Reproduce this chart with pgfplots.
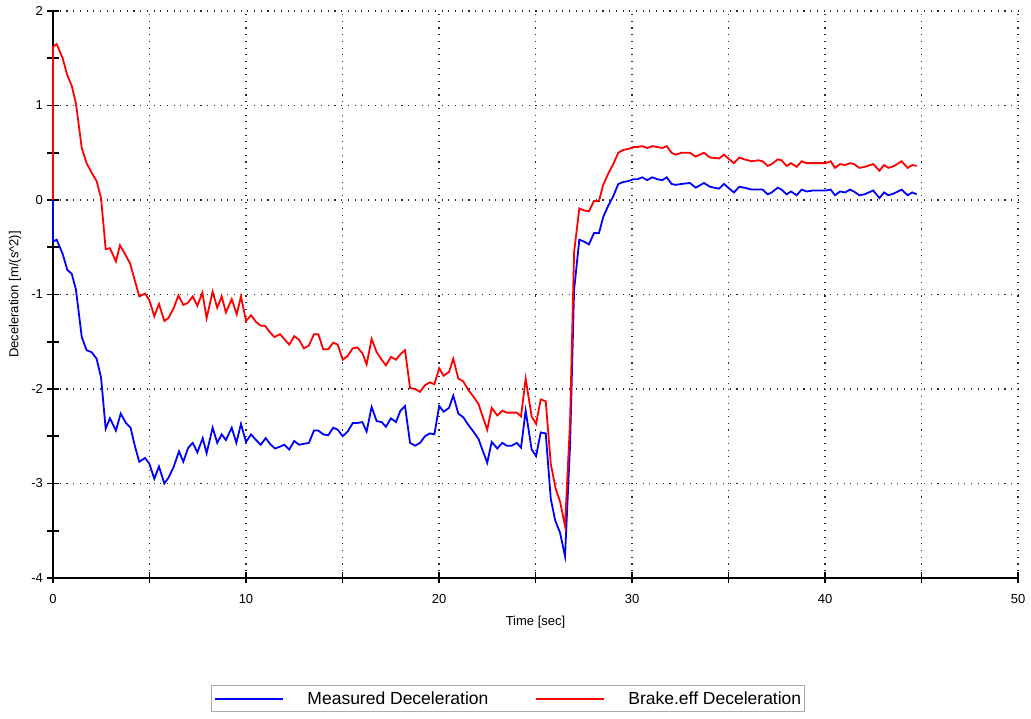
\documentclass[border=0pt]{standalone}
\usepackage{pgfplots}
\pgfplotsset{compat=1.18}
\usepackage{fontspec}
\setmainfont{Liberation Sans}

\pgfplotstableread{
t v
0 0
0 -0.44
0.19 -0.42
0.5 -0.57
0.74 -0.74
0.97 -0.78
1.19 -0.95
1.49 -1.45
1.74 -1.59
2.0 -1.61
2.26 -1.68
2.49 -1.88
2.73 -2.42
2.95 -2.31
3.26 -2.44
3.51 -2.26
3.78 -2.36
4.02 -2.41
4.25 -2.61
4.47 -2.77
4.77 -2.73
4.99 -2.79
5.25 -2.95
5.49 -2.82
5.77 -3.0
5.98 -2.94
6.24 -2.83
6.53 -2.66
6.75 -2.77
7.01 -2.62
7.24 -2.57
7.48 -2.67
7.76 -2.52
7.96 -2.68
8.27 -2.41
8.51 -2.57
8.74 -2.48
8.96 -2.54
9.26 -2.41
9.5 -2.57
9.74 -2.37
10.0 -2.56
10.26 -2.48
10.52 -2.54
10.76 -2.59
11.02 -2.52
11.24 -2.58
11.5 -2.63
11.76 -2.61
11.98 -2.59
12.24 -2.64
12.5 -2.55
12.75 -2.59
13.0 -2.58
13.26 -2.57
13.52 -2.44
13.75 -2.44
14.0 -2.48
14.26 -2.49
14.52 -2.41
14.75 -2.43
15.01 -2.50
15.27 -2.45
15.53 -2.36
15.77 -2.36
16.03 -2.35
16.25 -2.45
16.51 -2.19
16.77 -2.34
17.03 -2.35
17.25 -2.40
17.51 -2.31
17.77 -2.35
18.0 -2.23
18.24 -2.18
18.5 -2.57
18.76 -2.60
19.02 -2.57
19.27 -2.50
19.53 -2.47
19.76 -2.48
20.01 -2.18
20.24 -2.24
20.52 -2.20
20.74 -2.07
21.0 -2.26
21.26 -2.30
21.52 -2.38
21.78 -2.45
22.05 -2.53
22.26 -2.65
22.5 -2.78
22.73 -2.56
23.02 -2.63
23.28 -2.57
23.51 -2.60
23.77 -2.60
24.03 -2.57
24.25 -2.62
24.49 -2.23
24.8 -2.64
25.03 -2.71
25.27 -2.46
25.53 -2.47
25.79 -3.16
26.02 -3.39
26.27 -3.52
26.53 -3.77
26.79 -2.6
27.0 -0.95
27.27 -0.42
27.51 -0.44
27.77 -0.47
28.03 -0.35
28.29 -0.35
28.51 -0.18
28.77 -0.06
29.03 0.04
29.29 0.17
29.55 0.19
29.81 0.20
30.07 0.22
30.29 0.22
30.53 0.24
30.79 0.21
31.05 0.24
31.31 0.22
31.57 0.21
31.8 0.24
32.05 0.17
32.26 0.16
32.57 0.17
33.0 0.18
33.3 0.13
33.73 0.18
34.04 0.14
34.51 0.12
34.77 0.17
35.04 0.12
35.28 0.08
35.56 0.14
35.82 0.13
36.2 0.11
36.54 0.11
36.77 0.11
37.03 0.06
37.24 0.08
37.55 0.13
37.75 0.11
38.01 0.06
38.24 0.09
38.53 0.05
38.79 0.11
39.05 0.09
39.36 0.10
39.74 0.10
40.03 0.10
40.29 0.11
40.52 0.05
40.78 0.09
41.04 0.08
41.3 0.11
41.5 0.09
41.78 0.05
42.04 0.06
42.5 0.10
42.82 0.02
43.06 0.08
43.28 0.05
43.58 0.07
43.97 0.11
44.28 0.05
44.52 0.08
44.75 0.06
}\measured

\pgfplotstableread{
t v
0 0
0 1.62
0.19 1.65
0.5 1.50
0.74 1.32
0.97 1.21
1.19 1.02
1.49 0.55
1.74 0.39
2.0 0.29
2.26 0.20
2.49 0.02
2.73 -0.52
2.95 -0.51
3.26 -0.65
3.47 -0.48
3.73 -0.57
3.99 -0.67
4.25 -0.86
4.47 -1.02
4.77 -0.99
4.99 -1.06
5.25 -1.23
5.49 -1.10
5.77 -1.28
5.98 -1.25
6.24 -1.15
6.5 -1.01
6.75 -1.11
6.98 -1.09
7.24 -1.02
7.48 -1.12
7.74 -0.98
7.96 -1.25
8.27 -0.97
8.51 -1.14
8.74 -1.02
8.96 -1.19
9.26 -1.05
9.52 -1.21
9.74 -1.02
10.0 -1.28
10.26 -1.22
10.52 -1.29
10.76 -1.33
10.98 -1.33
11.24 -1.40
11.47 -1.45
11.76 -1.42
11.98 -1.47
12.24 -1.53
12.5 -1.44
12.75 -1.48
13.0 -1.57
13.26 -1.54
13.52 -1.42
13.75 -1.42
14.0 -1.58
14.26 -1.58
14.52 -1.51
14.75 -1.53
15.01 -1.69
15.27 -1.65
15.53 -1.57
15.77 -1.56
16.03 -1.62
16.25 -1.74
16.51 -1.47
16.77 -1.61
17.03 -1.69
17.25 -1.75
17.51 -1.66
17.77 -1.69
18.01 -1.63
18.24 -1.59
18.5 -1.99
18.76 -2.0
19.02 -2.03
19.27 -1.96
19.53 -1.93
19.76 -1.95
20.01 -1.78
20.24 -1.86
20.52 -1.82
20.74 -1.68
21.0 -1.89
21.26 -1.92
21.52 -2.01
21.78 -2.08
22.05 -2.16
22.26 -2.29
22.5 -2.43
22.73 -2.20
23.02 -2.28
23.28 -2.23
23.51 -2.25
23.77 -2.25
24.03 -2.25
24.25 -2.29
24.49 -1.89
24.8 -2.29
25.03 -2.37
25.27 -2.11
25.53 -2.13
25.79 -2.79
26.05 -3.06
26.27 -3.19
26.53 -3.45
26.79 -2.35
27.0 -0.55
27.27 -0.09
27.51 -0.11
27.77 -0.12
28.03 -0.01
28.29 -0.01
28.51 0.16
28.77 0.28
29.03 0.38
29.29 0.50
29.55 0.53
29.81 0.54
30.07 0.56
30.29 0.56
30.53 0.57
30.79 0.55
31.05 0.57
31.31 0.56
31.57 0.55
31.8 0.57
32.05 0.50
32.26 0.48
32.57 0.50
33.0 0.50
33.3 0.46
33.73 0.50
34.04 0.45
34.51 0.44
34.77 0.48
35.04 0.43
35.28 0.39
35.56 0.45
35.82 0.43
36.2 0.41
36.54 0.42
36.77 0.41
37.03 0.36
37.24 0.38
37.55 0.43
37.75 0.42
38.01 0.36
38.24 0.39
38.53 0.35
38.79 0.41
39.05 0.39
39.36 0.39
39.74 0.39
40.03 0.39
40.29 0.41
40.52 0.34
40.78 0.38
41.04 0.37
41.3 0.39
41.5 0.38
41.78 0.34
42.04 0.35
42.5 0.38
42.82 0.31
43.06 0.37
43.28 0.34
43.58 0.36
43.97 0.41
44.28 0.34
44.52 0.37
44.75 0.36
}\brakeeff

\definecolor{gridgray}{RGB}{40,40,40}
\definecolor{legendframe}{RGB}{170,170,170}

\begin{document}
\begin{tikzpicture}[x=1pt,y=1pt]
\path[use as bounding box] (0,0) rectangle (1031,719);
\begin{axis}[
  at={(53pt,141pt)}, anchor=south west,
  scale only axis, width=965pt, height=567pt,
  xmin=0, xmax=50, ymin=-4, ymax=2,
  axis x line=bottom, axis y line=left,
  axis line style={-, black, line width=1.6pt},
  xtick={0,10,...,50}, minor xtick={5,15,...,45},
  ytick={-4,-3,...,2}, minor ytick={-3.5,-2.5,...,1.5},
  tick align=center,
  major tick length=11pt, minor tick length=11pt,
  every tick/.style={black, line width=1.6pt},
  xmajorgrids=true, xminorgrids=true, ymajorgrids=true,
  major grid style={gridgray, line width=1.1pt, dash pattern=on 1.1pt off 5.6pt},
  minor grid style={gridgray, line width=1.1pt, dash pattern=on 1.1pt off 5.6pt},
  /pgf/number format/assume math mode=true,
  ticklabel style={font=\fontsize{13}{15}\selectfont},
  xticklabel style={yshift=-7pt},
  yticklabel style={xshift=-1pt},
  xlabel={Time [sec]}, ylabel={Deceleration [m/(s\textasciicircum 2)]},
  every axis x label/.style={at={(axis description cs:0.5,0)}, yshift=-44pt, anchor=center,
    font=\fontsize{13}{15}\selectfont},
  every axis y label/.style={at={(axis description cs:0,0.5)}, xshift=-38pt, rotate=90, anchor=center,
    font=\fontsize{13}{15}\selectfont},
  clip=false,
  legend columns=2,
  legend image code/.code={\draw[#1, line width=2pt] (0pt,0pt) -- (68pt,0pt);},
  legend style={
    at={(axis description cs:0.1637,-0.1887)}, anchor=north west,
    draw=legendframe, line width=1pt, fill=white,
    font=\fontsize{17.5}{20}\selectfont,
    inner xsep=3pt, inner ysep=5pt,
    nodes={inner xsep=0pt, inner ysep=1pt},
    /tikz/column 1/.style={column sep=23pt},
    /tikz/column 2/.style={column sep=47pt},
    /tikz/column 3/.style={column sep=23pt},
  },
]
\addplot[blue, line width=1.8pt] table[x=t, y=v] {\measured};
\addlegendentry{Measured Deceleration}
\addplot[red, line width=1.8pt] table[x=t, y=v] {\brakeeff};
\addlegendentry{Brake.eff Deceleration}
\end{axis}
\end{tikzpicture}
\end{document}
